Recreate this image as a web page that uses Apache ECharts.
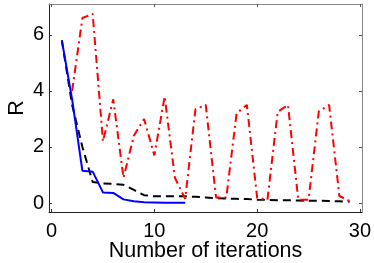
<!DOCTYPE html>
<html><head><meta charset="utf-8">
<script src="https://cdn.jsdelivr.net/npm/echarts@6/dist/echarts.min.js"></script>
<style>html,body{margin:0;padding:0;background:#fff}#c{width:374px;height:263px}</style>
</head><body><div id="c"></div>
<script>
var xTicks = [0, 10, 20, 30];
var yTicks = [0, 2, 4, 6];
var blueX = [1,2,3,4,5,6,7,8,9,10,11,12,13];
var blueY = [5.8,3.7,1.15,1.12,0.38,0.36,0.13,0.06,0.03,0.02,0.01,0.01,0.01];
var blackX = [1,2,3,4,5,6,7,8,9,10,11,12,13,14,15,16,17,18,19,20,21,22,23,24,25,26,27,28,29];
var blackY = [5.8,3.5,2.0,0.75,0.7,0.68,0.65,0.47,0.28,0.24,0.24,0.24,0.24,0.22,0.2,0.17,0.16,0.15,0.14,0.12,0.11,0.1,0.1,0.09,0.08,0.08,0.07,0.06,0.05];
var redX = [2,3,4,5,6,7,8,9,10,11,12,13,14,15,16,17,18,19,20,21,22,23,24,25,26,27,28,29];
var redY = [4.0,6.6,6.75,2.2,3.7,0.9,2.4,3.0,1.7,3.8,0.9,0.15,3.35,3.5,0.2,0.2,3.2,3.5,0.18,0.12,3.25,3.5,0.12,0.12,3.27,3.5,0.25,0.07];
function pairs(xs, ys){ return xs.map(function(x,i){ return [x, ys[i]]; }); }
var font = 'Liberation Sans, Arial, sans-serif';
var chart = echarts.init(document.getElementById('c'));
chart.setOption({
  animation:false,
  grid:{left:49, right:12, top:4, bottom:51, containLabel:false, outerBoundsMode:'none'},
  xAxis:[{
    type:'value', min:-0.25, max:30.2, position:'bottom',
    name:'Number of iterations', nameLocation:'middle', nameGap:28, nameMoveOverlap:false,
    nameTextStyle:{fontFamily:font, fontSize:21.5, color:'#000', verticalAlign:'top'},
    axisLine:{show:true, onZero:false, lineStyle:{color:'#222', width:1}},
    axisTick:{show:true, inside:true, length:3, customValues:xTicks, lineStyle:{color:'#333'}},
    axisLabel:{customValues:xTicks, fontFamily:font, fontSize:20, color:'#000', margin:9},
    splitLine:{show:false}
  },{
    type:'value', min:-0.25, max:30.2, position:'top',
    axisLine:{show:true, onZero:false, lineStyle:{color:'#888', width:1}},
    axisTick:{show:true, inside:true, length:3, customValues:xTicks, lineStyle:{color:'#555'}},
    axisLabel:{show:false}, splitLine:{show:false}
  }],
  yAxis:[{
    type:'value', min:-0.32, max:7.1, position:'left',
    name:'R', nameLocation:'middle', nameGap:21, nameRotate:90, nameMoveOverlap:false,
    nameTextStyle:{fontFamily:font, fontSize:21.5, color:'#000'},
    axisLine:{show:true, onZero:false, lineStyle:{color:'#222', width:1}},
    axisTick:{show:true, inside:true, length:3, customValues:yTicks, lineStyle:{color:'#333'}},
    axisLabel:{customValues:yTicks, fontFamily:font, fontSize:20, color:'#000', margin:5},
    splitLine:{show:false}
  },{
    type:'value', min:-0.32, max:7.1, position:'right',
    axisLine:{show:true, onZero:false, lineStyle:{color:'#888', width:1}},
    axisTick:{show:true, inside:true, length:3, customValues:yTicks, lineStyle:{color:'#555'}},
    axisLabel:{show:false}, splitLine:{show:false}
  }],
  series:[
    {type:'line', data:pairs(blackX, blackY), showSymbol:false, symbol:'none',
     lineStyle:{color:'#000', width:2, type:[8,5]}, z:2},
    {type:'line', data:pairs(blueX, blueY), showSymbol:false, symbol:'none',
     lineStyle:{color:'#0000ff', width:2}, z:3},
    {type:'line', data:pairs(redX, redY), showSymbol:false, symbol:'none',
     lineStyle:{color:'#ff0000', width:2, type:[8,4,2,4]}, z:4}
  ]
});
</script></body></html>
